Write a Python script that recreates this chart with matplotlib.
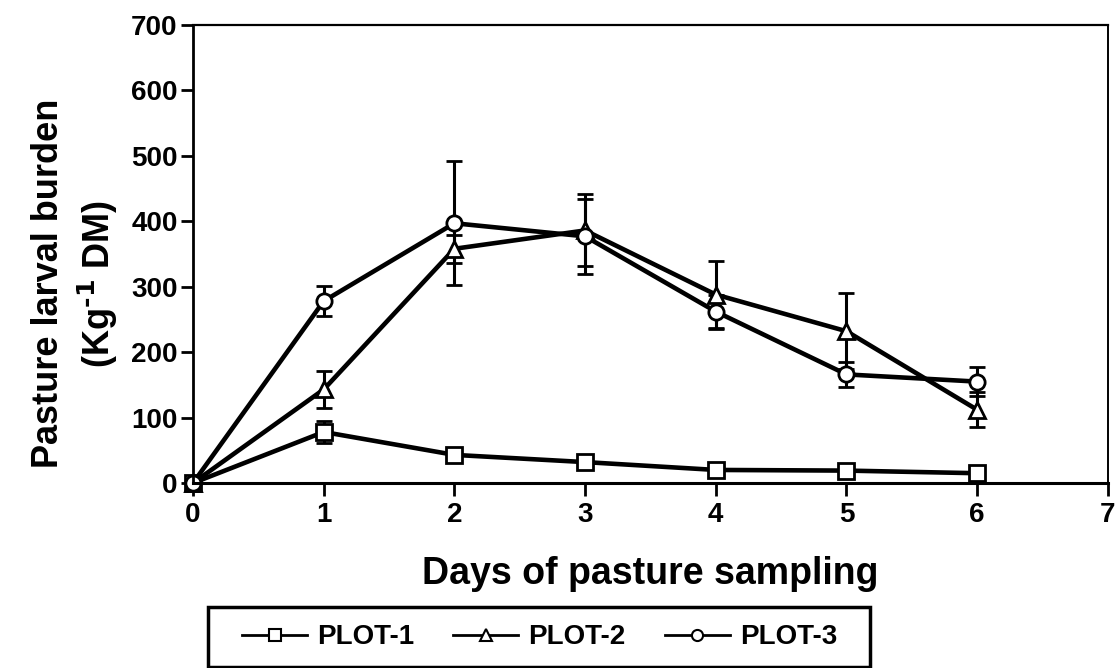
import matplotlib.pyplot as plt
from matplotlib.lines import Line2D
from matplotlib.patches import Rectangle

plt.rcParams['font.family'] = ['Liberation Sans', 'DejaVu Sans']
plt.rcParams['font.weight'] = 'bold'
plt.rcParams['mathtext.default'] = 'regular'

days = [0, 1, 2, 3, 4, 5, 6]
plot1 = [0, 78, 43, 32, 20, 19, 15]
plot1_err = [0, 17, 5, 4, 3, 3, 3]
plot2 = [0, 143, 358, 386, 288, 232, 112]
plot2_err = [0, 28, 21, 55, 52, 58, 27]
plot3 = [0, 278, 397, 377, 262, 166, 155]
plot3_err = [0, 23, 95, 57, 25, 19, 22]
names = ['PLOT-1', 'PLOT-2', 'PLOT-3']

fig = plt.figure(figsize=(11.17, 6.68), dpi=100)
ax = fig.add_axes([0.1728, 0.2769, 0.819, 0.6857])

styles = [('s', plot1, plot1_err), ('^', plot2, plot2_err), ('o', plot3, plot3_err)]
for marker, vals, err in styles:
    ax.errorbar(days, vals, yerr=err, color='black', lw=3.3, marker=marker,
                markersize=11, markerfacecolor='white', markeredgewidth=2,
                elinewidth=2.2, capsize=6, capthick=2.2, clip_on=False)

ax.set_xlim(0, 7)
ax.set_ylim(0, 700)
ax.set_xticks(range(0, 8))
ax.set_yticks(range(0, 701, 100))
ax.spines['left'].set_linewidth(2)
ax.spines['bottom'].set_linewidth(2.2)
ax.spines['top'].set_linewidth(1.6)
ax.spines['right'].set_linewidth(1.4)
ax.tick_params(direction='out', length=9, width=2, labelsize=20)
ax.tick_params(axis='x', pad=5)
ax.tick_params(axis='y', pad=2)
for lab in ax.get_xticklabels() + ax.get_yticklabels():
    lab.set_fontweight('bold')

ax.set_xlabel('Days of pasture sampling', fontsize=27, fontweight='bold', labelpad=20)
ax.set_ylabel('Pasture larval burden\n(Kg$^{\\text{-1}}$ DM)', fontsize=26, fontweight='bold',
              labelpad=8, linespacing=1.3)
ax.yaxis.label.set_y(0.435)

handles = [Line2D([], [], color='black', lw=2, marker=m, markersize=8,
                  markerfacecolor='white', markeredgewidth=1.5) for m in ['s', '^', 'o']]
fig.legend(handles, names, loc='center', bbox_to_anchor=(0.483, 0.046), ncol=3,
           prop={'size': 20, 'weight': 'bold'}, frameon=False,
           handlelength=2.35, handletextpad=0.36, columnspacing=1.4)
# box around the legend, like the original figure
fig.add_artist(Rectangle((0.1862, 0.0015), 0.5927, 0.0898, transform=fig.transFigure,
                         fill=False, edgecolor='black', lw=2.5))

fig.savefig('out.png', dpi=100)
